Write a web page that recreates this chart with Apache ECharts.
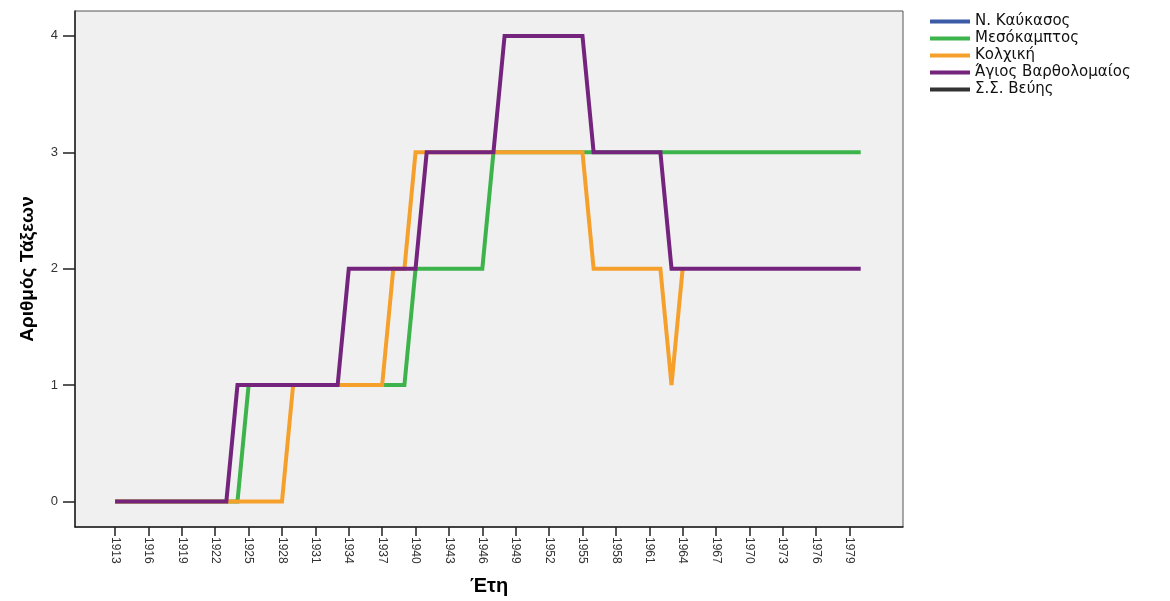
<!DOCTYPE html>
<html>
<head>
<meta charset="utf-8">
<script src="https://cdn.jsdelivr.net/npm/echarts@6/dist/echarts.min.js"></script>
<style>
html,body{margin:0;padding:0;background:#ffffff;}
#chart{width:1170px;height:601px;}
</style>
</head>
<body>
<div id="chart"></div>
<script>
// ---- Data ----
const years = [
  1913,1914,1915,1916,1917,1918,1919,1920,1921,1922,
  1923,1924,1925,1926,1927,1928,1929,1930,1931,1932,
  1933,1934,1935,1936,1937,1938,1939,1940,1941,1942,
  1943,1944,1945,1946,1947,1948,1949,1950,1951,1952,
  1953,1954,1955,1956,1957,1958,1959,1960,1961,1962,
  1963,1964,1965,1966,1967,1968,1969,1970,1971,1972,
  1973,1974,1975,1976,1977,1978,1979,1980
];
const tickYears = [1913,1916,1919,1922,1925,1928,1931,1934,1937,1940,1943,1946,1949,1952,1955,1958,1961,1964,1967,1970,1973,1976,1979];
const yTicks = [0,1,2,3,4];
const seriesNames = ['Ν. Καύκασος','Μεσόκαμπτος','Κολχική','Άγιος Βαρθολομαίος','Σ.Σ. Βεύης'];
const seriesColors = ['#3b5ba6','#3cb44b','#f6a02c','#74247d','#333333'];

const kaukasos = [];
const mesokamptos = [
  0,0,0,0,0,0,0,0,0,0,
  0,0,1,1,1,1,1,1,1,1,
  1,1,1,1,1,1,1,2,2,2,
  2,2,2,2,3,3,3,3,3,3,
  3,3,3,3,3,3,3,3,3,3,
  3,3,3,3,3,3,3,3,3,3,
  3,3,3,3,3,3,3,3
];
const kolchiki = [
  0,0,0,0,0,0,0,0,0,0,
  0,0,0,0,0,0,1,1,1,1,
  1,1,1,1,1,2,2,3,3,3,
  3,3,3,3,3,3,3,3,3,3,
  3,3,3,2,2,2,2,2,2,2,
  1,2,null,null,null,null,null,null,null,null,
  null,null,null,null,null,null,null,null
];
const agios = [
  0,0,0,0,0,0,0,0,0,0,
  0,1,1,1,1,1,1,1,1,1,
  1,2,2,2,2,2,2,2,3,3,
  3,3,3,3,3,4,4,4,4,4,
  4,4,4,3,3,3,3,3,3,3,
  2,2,2,2,2,2,2,2,2,2,
  2,2,2,2,2,2,2,2
];
const veuis = [];

const allValues = [kaukasos, mesokamptos, kolchiki, agios, veuis];

function pairs(vals) {
  return vals.map(function (v, i) { return [years[i], v]; });
}

const chart = echarts.init(document.getElementById('chart'), null, {renderer: 'canvas'});
const font = 'Liberation Sans, Arial, sans-serif';

chart.setOption({
  animation: false,
  backgroundColor: '#ffffff',
  grid: {
    left: 75, right: 267, top: 11, bottom: 73,
    show: true,
    backgroundColor: '#f0f0f0',
    borderColor: '#555555',
    borderWidth: 1
  },
  legend: {
    orient: 'vertical',
    left: 925,
    top: 9,
    icon: 'rect',
    itemWidth: 40,
    itemHeight: 4,
    itemGap: 2,
    textStyle: {fontFamily: 'DejaVu Sans, ' + font, fontSize: 15, color: '#111111'},
    data: seriesNames
  },
  xAxis: {
    type: 'value',
    min: 1909.4,
    max: 1983.8,
    name: 'Έτη',
    nameLocation: 'middle',
    nameGap: 49,
    nameTextStyle: {fontFamily: font, fontSize: 20, fontWeight: 'bold', color: '#000000'},
    axisLine: {show: true, onZero: false, lineStyle: {color: '#222222', width: 1.5}},
    axisTick: {show: true, customValues: tickYears, length: 9, lineStyle: {color: '#222222', width: 1.5}},
    axisLabel: {
      customValues: tickYears,
      rotate: -90,
      margin: 10,
      fontFamily: font,
      fontSize: 12,
      color: '#333333',
      formatter: function (v) { return String(Math.round(v)); }
    },
    splitLine: {show: false}
  },
  yAxis: {
    type: 'value',
    min: -0.219,
    max: 4.214,
    name: 'Αριθμός Τάξεων',
    nameLocation: 'middle',
    nameGap: 38,
    nameRotate: 90,
    nameTextStyle: {fontFamily: 'Liberation Sans Narrow, Arial Narrow, ' + font, fontSize: 19, fontWeight: 'bold', color: '#000000'},
    axisLine: {show: true, onZero: false, lineStyle: {color: '#222222', width: 1.5}},
    axisTick: {show: true, customValues: yTicks, length: 12, lineStyle: {color: '#222222', width: 1.5}},
    axisLabel: {
      customValues: yTicks,
      margin: 17,
      fontFamily: font,
      fontSize: 13,
      color: '#333333'
    },
    splitLine: {show: false}
  },
  series: seriesNames.map(function (name, i) {
    return {
      name: name,
      type: 'line',
      data: pairs(allValues[i]),
      showSymbol: false,
      symbol: 'none',
      color: seriesColors[i],
      lineStyle: {width: 4, color: seriesColors[i], join: 'miter'},
      connectNulls: false
    };
  })
});
</script>
</body>
</html>
